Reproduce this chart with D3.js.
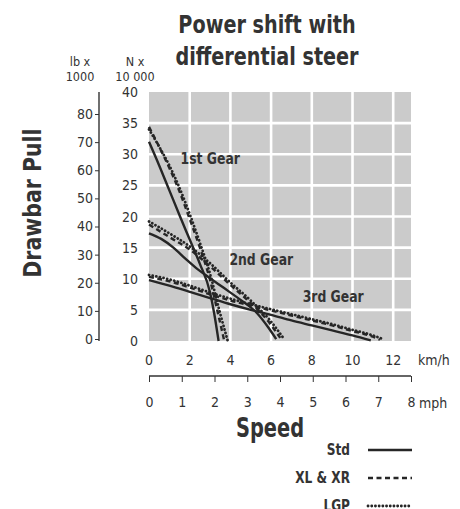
<!DOCTYPE html>
<html>
<head>
<meta charset="utf-8">
<script src="https://cdn.jsdelivr.net/npm/d3@7"></script>
<style>
  body { margin: 0; background: #fff; }
  svg { display: block; }
  .cond { font-family: "DejaVu Sans Condensed", "Liberation Sans Narrow", "Roboto", sans-serif; }
</style>
</head>
<body>
<svg id="chart" width="460" height="509"></svg>
<script>
const d3 = window.d3;

// speed in km/h, drawbar pull in N x 10 000
const gear1Std = [[0, 32], [0.5, 28.2], [1, 24.2], [1.5, 20.2], [2, 16.3], [2.5, 12.4], [3, 7.8], [3.2, 4.5], [3.42, 0]];
const gear1XL = [[0, 34.4], [0.5, 31.2], [1, 27.8], [1.5, 24], [2, 19.6], [2.5, 15], [3, 9.8], [3.35, 5], [3.7, 0]];
const gear1LGP = [[0, 34], [0.5, 31.2], [1, 28.2], [1.5, 24.6], [2, 20.4], [2.5, 15.8], [3, 10.8], [3.45, 5], [3.87, 0]];

const gear2Std = [[0, 17.3], [0.6, 16.4], [1.2, 15], [1.8, 13.2], [2.4, 11.5], [3, 10.1], [3.6, 8.7], [4.5, 6.6], [5.3, 4.5], [5.9, 2], [6.25, 0.3]];
const gear2XL = [[0, 18.7], [1, 16.7], [2, 14.7], [3, 12], [4, 9], [5, 6.1], [5.8, 3.4], [6.45, 0.5]];
const gear2LGP = [[0, 19.2], [1, 17.3], [2, 15.2], [3, 12.5], [4, 9.4], [5, 6.5], [5.9, 3.5], [6.6, 0.5]];

const gear3Std = [[0, 9.8], [1, 8.9], [2, 7.9], [3, 6.9], [4, 5.9], [5, 5], [6, 4.2], [7, 3.3], [8, 2.5], [9, 1.7], [10, 0.9], [10.9, 0.1]];
const gear3XL = [[0, 10.3], [1, 9.6], [2, 8.6], [3, 7.5], [4, 6.5], [5, 5.7], [6, 4.9], [7, 4.1], [8, 3.3], [9, 2.5], [10, 1.6], [11, 0.7], [11.35, 0.2]];
const gear3LGP = [[0, 10.6], [1, 9.9], [2, 8.9], [3, 7.8], [4, 6.8], [5, 5.9], [6, 5.1], [7, 4.3], [8, 3.5], [9, 2.7], [10, 1.8], [11, 0.9], [11.5, 0.3]];

const kmhTicks = [0, 2, 4, 6, 8, 10, 12];
const mphTicks = [0, 1, 2, 3, 4, 5, 6, 7, 8];
const nTicks = [0, 5, 10, 15, 20, 25, 30, 35, 40];
const lbTicks = [0, 10, 20, 30, 40, 50, 60, 70, 80];

const gearLabels = [
    { text: "1st Gear", kmh: 1.55, n: 28.5 },
    { text: "2nd Gear", kmh: 3.95, n: 12.2 },
    { text: "3rd Gear", kmh: 7.55, n: 6.2 }
];

const series = [
    { data: gear1XL, style: "xl" }, { data: gear1LGP, style: "lgp" }, { data: gear1Std, style: "std" },
    { data: gear2XL, style: "xl" }, { data: gear2LGP, style: "lgp" }, { data: gear2Std, style: "std" },
    { data: gear3XL, style: "xl" }, { data: gear3LGP, style: "lgp" }, { data: gear3Std, style: "std" }
];

const legendItems = [
    { label: "Std", style: "std" },
    { label: "XL & XR", style: "xl" },
    { label: "LGP", style: "lgp" }
];

const KMH_PER_MPH = 1.609344;

const ink = "#262626";
const txt = "#333";
const lineStyles = {
    std: { dash: null, width: 2.4, cap: "butt" },
    xl: { dash: "5,3.5", width: 2.4, cap: "butt" },
    lgp: { dash: "0.1,3.6", width: 2.8, cap: "round" }
};

const svg = d3.select("#chart");

const x = d3.scaleLinear().domain([0, 8 * KMH_PER_MPH]).range([149, 411]);
const y = d3.scaleLinear().domain([0, 40]).range([341, 92]);
const xMph = d3.scaleLinear().domain([0, 8]).range([x(0), x(8 * KMH_PER_MPH)]);
// lb x 1000 axis as printed beside the N axis
const yLb = d3.scaleLinear().domain([0, 80]).range([339, 114]);

// narrow bold heading: squeeze horizontally to get a condensed look
const heading = (tx, ty, size, sx, str, rot = 0) =>
    svg.append("text")
        .attr("class", "cond")
        .attr("transform", `translate(${tx},${ty}) rotate(${rot}) scale(${sx},1)`)
        .attr("text-anchor", "middle")
        .attr("font-size", size)
        .attr("font-weight", "bold")
        .attr("fill", txt)
        .text(str);

// plot background + grid
const plot = svg.append("g");
plot.append("rect")
    .attr("x", x(0)).attr("y", y(40))
    .attr("width", x.range()[1] - x(0)).attr("height", y(0) - y(40))
    .attr("fill", "#cbcbcb");

plot.selectAll("line.vg")
    .data(kmhTicks.filter((d) => d > 0))
    .join("line")
    .attr("class", "vg")
    .attr("x1", (d) => x(d)).attr("x2", (d) => x(d))
    .attr("y1", y(40)).attr("y2", y(0))
    .attr("stroke", "#fff").attr("stroke-width", 2.6);

plot.selectAll("line.hg")
    .data(nTicks.filter((d) => d > 0 && d < 40))
    .join("line")
    .attr("class", "hg")
    .attr("x1", x(0)).attr("x2", x.range()[1])
    .attr("y1", (d) => y(d)).attr("y2", (d) => y(d))
    .attr("stroke", "#fff").attr("stroke-width", 2.6);

// curves
const line = d3.line((d) => x(d[0]), (d) => y(d[1])).curve(d3.curveMonotoneX);

svg.append("g")
    .selectAll("path")
    .data(series)
    .join("path")
    .attr("d", (d) => line(d.data))
    .attr("fill", "none")
    .attr("stroke", ink)
    .attr("stroke-width", (d) => lineStyles[d.style].width)
    .attr("stroke-dasharray", (d) => lineStyles[d.style].dash)
    .attr("stroke-linecap", (d) => lineStyles[d.style].cap);

svg.append("g")
    .selectAll("text")
    .data(gearLabels)
    .join("text")
    .attr("class", "cond")
    .attr("transform", (d) => `translate(${x(d.kmh)},${y(d.n)}) scale(0.92,1)`)
    .attr("font-size", 15)
    .attr("font-weight", "bold")
    .attr("fill", txt)
    .text((d) => d.text);

// N axis labels (no line)
svg.append("g")
    .selectAll("text")
    .data(nTicks)
    .join("text")
    .attr("class", "cond")
    .attr("x", 138)
    .attr("y", (d) => y(d) + 5)
    .attr("text-anchor", "end")
    .attr("font-size", 14)
    .attr("fill", txt)
    .text((d) => d);

// lb axis
const lbAxis = d3.axisLeft(yLb).tickValues(lbTicks).tickSize(4).tickPadding(2);
svg.append("g")
    .attr("transform", "translate(99,0)")
    .call(lbAxis)
    .call((g) => g.select(".domain").attr("d", `M0,${y(40)}V${y(0)}`).attr("stroke", txt).attr("stroke-width", 1.4))
    .call((g) => g.selectAll(".tick line").attr("stroke", txt))
    .call((g) => g.selectAll("text")
        .attr("class", "cond")
        .attr("font-family", null)
        .attr("font-size", 14)
        .attr("fill", txt));

// km/h labels
svg.append("g")
    .selectAll("text")
    .data(kmhTicks)
    .join("text")
    .attr("class", "cond")
    .attr("x", (d) => x(d))
    .attr("y", 365)
    .attr("text-anchor", "middle")
    .attr("font-size", 14)
    .attr("fill", txt)
    .text((d) => d);

svg.append("text")
    .attr("class", "cond")
    .attr("x", 418).attr("y", 365)
    .attr("font-size", 14).attr("fill", txt)
    .text("km/h");

// mph axis
const mphAxis = d3.axisBottom(xMph).tickValues(mphTicks).tickSize(6).tickPadding(15);
svg.append("g")
    .attr("transform", "translate(0,376)")
    .call(mphAxis)
    .call((g) => g.select(".domain").attr("d", `M${xMph(0)},0H${xMph(8)}`).attr("stroke", txt).attr("stroke-width", 1.4))
    .call((g) => g.selectAll(".tick line").attr("stroke", txt))
    .call((g) => g.selectAll("text")
        .attr("class", "cond")
        .attr("font-family", null)
        .attr("font-size", 14)
        .attr("fill", txt));

svg.append("text")
    .attr("class", "cond")
    .attr("x", 419).attr("y", 408)
    .attr("font-size", 14).attr("fill", txt)
    .text("mph");

// unit headers
const unitHead = (cx, lines) =>
    svg.append("g")
        .selectAll("text")
        .data(lines)
        .join("text")
        .attr("class", "cond")
        .attr("text-anchor", "middle")
        .attr("font-size", 12.5)
        .attr("fill", txt)
        .attr("x", cx)
        .attr("y", (d, i) => 66 + i * 15)
        .text((d) => d);
unitHead(80, ["lb x", "1000"]);
unitHead(135, ["N x", "10 000"]);

// titles
heading(267, 33, 24, 0.89, "Power shift with");
heading(267, 65, 24, 0.89, "differential steer");
heading(41, 203, 24, 0.95, "Drawbar Pull", -90);
heading(270, 437, 26, 0.83, "Speed");

// legend
const legend = svg.append("g")
    .selectAll("g")
    .data(legendItems)
    .join("g")
    .attr("transform", (d, i) => `translate(0,${455 + i * 28})`);

legend.append("text")
    .attr("class", "cond")
    .attr("transform", "translate(350,0) scale(0.9,1)")
    .attr("text-anchor", "end")
    .attr("font-size", 15)
    .attr("font-weight", "bold")
    .attr("fill", txt)
    .text((d) => d.label);

legend.append("line")
    .attr("x1", 368).attr("x2", 412)
    .attr("y1", -5).attr("y2", -5)
    .attr("stroke", ink)
    .attr("stroke-width", (d) => lineStyles[d.style].width)
    .attr("stroke-dasharray", (d) => lineStyles[d.style].dash)
    .attr("stroke-linecap", (d) => lineStyles[d.style].cap);
</script>
</body>
</html>
